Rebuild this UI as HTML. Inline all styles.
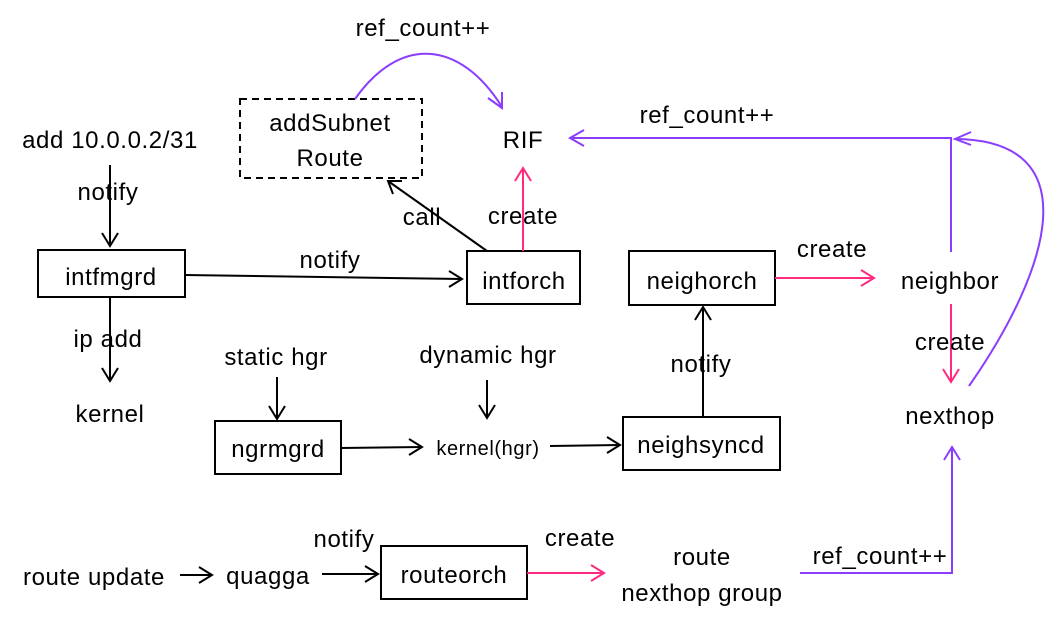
<!DOCTYPE html>
<html><head><meta charset="utf-8"><style>
html,body{margin:0;padding:0;background:#fff;}
svg{display:block;}
text{font-family:"Liberation Sans",Arial,sans-serif;font-size:24px;letter-spacing:0.6px;fill:#000;}
</style></head><body>
<svg width="1057" height="619" viewBox="0 0 1057 619" xmlns="http://www.w3.org/2000/svg">
<g fill="none" stroke-width="2">
<rect x="240" y="99" width="182" height="79" stroke="#000" stroke-dasharray="7,5"/>
<rect x="38" y="250" width="147" height="47" stroke="#000"/>
<rect x="467" y="251" width="113" height="53" stroke="#000"/>
<rect x="629" y="251" width="146" height="54" stroke="#000"/>
<rect x="215" y="421" width="126" height="53" stroke="#000"/>
<rect x="623" y="417" width="157" height="53" stroke="#000"/>
<rect x="381" y="546" width="146" height="53" stroke="#000"/>

<g stroke="#000">
<path d="M110 165 V245"/><path d="M102 233 L110 246 L118 233"/>
<path d="M110 297 V380"/><path d="M102 368 L110 381 L118 368"/>
<path d="M185 275 L462 279"/><path d="M449 271 L462 279 L449 287"/>
<path d="M487 251 L388 181"/><path d="M393 194 L388 181 L402 181"/>
<path d="M277 377 V418"/><path d="M269 406 L277 419 L285 406"/>
<path d="M487 380 V417"/><path d="M479 405 L487 418 L495 405"/>
<path d="M341 448 L422 447"/><path d="M409 439 L422 447 L409 455"/>
<path d="M550 446 L620 445"/><path d="M607 437 L620 445 L607 453"/>
<path d="M703 417 V308"/><path d="M695 320 L703 307 L711 320"/>
<path d="M180 575 H212"/><path d="M199 567 L212 575 L199 583"/>
<path d="M322 574 H378"/><path d="M365 566 L378 574 L365 582"/>
</g>

<g stroke="#ff2a80">
<path d="M523 251 V168"/><path d="M515 181 L523 168 L531 181"/>
<path d="M775 278 H874"/><path d="M861 270 L874 278 L861 286"/>
<path d="M951 304 V382"/><path d="M943 369 L951 382 L959 369"/>
<path d="M527 573 H604"/><path d="M591 565 L604 573 L591 581"/>
</g>

<g stroke="#8a3dfc">
<path d="M355 99 C400 35 460 40 502 107"/><path d="M488 98 L502 108 L502 92"/>
<path d="M951 252 V138 H570"/><path d="M584 130 L570 138 L584 146"/>
<path d="M969 386 C1050 270 1090 140 955 139"/><path d="M971 132 L955 139 L971 145"/>
<path d="M800 573 H952 V447"/><path d="M944 460 L952 447 L960 460"/>
</g>
</g>

<text x="423" y="36" text-anchor="middle">ref_count++</text>
<text x="330" y="131" text-anchor="middle">addSubnet</text>
<text x="330" y="166" text-anchor="middle">Route</text>
<text x="523" y="148" text-anchor="middle">RIF</text>
<text x="707" y="123" text-anchor="middle">ref_count++</text>
<text x="110" y="148" text-anchor="middle">add 10.0.0.2/31</text>
<text x="108" y="200" text-anchor="middle">notify</text>
<text x="111" y="285" text-anchor="middle">intfmgrd</text>
<text x="330" y="268" text-anchor="middle">notify</text>
<text x="422" y="225" text-anchor="middle">call</text>
<text x="523" y="224" text-anchor="middle">create</text>
<text x="524" y="289" text-anchor="middle">intforch</text>
<text x="702" y="289" text-anchor="middle">neighorch</text>
<text x="832" y="257" text-anchor="middle">create</text>
<text x="950" y="289" text-anchor="middle">neighbor</text>
<text x="950" y="350" text-anchor="middle">create</text>
<text x="950" y="424" text-anchor="middle">nexthop</text>
<text x="108" y="347" text-anchor="middle">ip add</text>
<text x="110" y="422" text-anchor="middle">kernel</text>
<text x="276" y="365" text-anchor="middle">static hgr</text>
<text x="488" y="363" text-anchor="middle">dynamic hgr</text>
<text x="701" y="372" text-anchor="middle">notify</text>
<text x="278" y="457" text-anchor="middle">ngrmgrd</text>
<text x="488" y="455" text-anchor="middle" style="font-size:20px">kernel(hgr)</text>
<text x="701" y="453" text-anchor="middle">neighsyncd</text>
<text x="344" y="547" text-anchor="middle">notify</text>
<text x="580" y="546" text-anchor="middle">create</text>
<text x="702" y="565" text-anchor="middle">route</text>
<text x="702" y="601" text-anchor="middle">nexthop group</text>
<text x="880" y="564" text-anchor="middle">ref_count++</text>
<text x="94" y="585" text-anchor="middle">route update</text>
<text x="268" y="584" text-anchor="middle">quagga</text>
<text x="454" y="583" text-anchor="middle">routeorch</text>
</svg>
</body></html>
